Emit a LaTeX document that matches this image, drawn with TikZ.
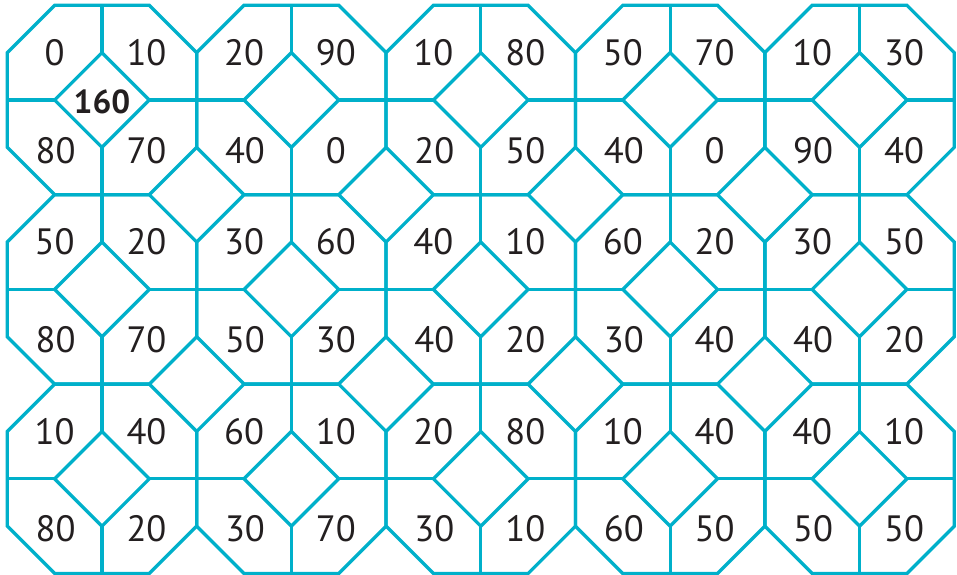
\documentclass[tikz,border=0pt]{standalone}
\usepackage{fontspec}
\setmainfont{PT Sans}
\usepackage{tikz}
\definecolor{octline}{RGB}{0,176,202}
\definecolor{numtext}{RGB}{35,31,32}

\begin{document}
\begin{tikzpicture}[line width=1pt, line join=miter,
  font=\fontsize{11}{13}\selectfont,
  cell/.style={draw=octline},
  num/.style={inner sep=0pt, text=numtext}]
\useasboundingbox (-1.077,-5.016) rectangle (9.029,1.056);

% --- octagons: column/row/top-left/top-right/bottom-left/bottom-right ---
\foreach \c/\r/\tl/\tr/\bl/\br in {
  0/0/0/10/80/70,   1/0/20/90/40/0,   2/0/10/80/20/50,  3/0/50/70/40/0,   4/0/10/30/90/40,
  0/1/50/20/80/70,  1/1/30/60/50/30,  2/1/40/10/40/20,  3/1/60/20/30/40,  4/1/30/50/40/20,
  0/2/10/40/80/20,  1/2/60/10/30/70,  2/2/20/80/30/10,  3/2/10/40/60/50,  4/2/40/10/50/50} {
  \begin{scope}[shift={(2*\c,-2*\r)}]
    % outline
    \draw[cell] (-1,-0.5) -- (-1,0.5) -- (-0.5,1) -- (0.5,1) -- (1,0.5)
      -- (1,-0.5) -- (0.5,-1) -- (-0.5,-1) -- cycle;
    % inner diamond
    \draw[cell] (0.5,0) -- (0,0.5) -- (-0.5,0) -- (0,-0.5) -- cycle;
    % cross
    \draw[cell] (-1,0) -- (-0.5,0) (0.5,0) -- (1,0) (0,1) -- (0,0.5) (0,-0.5) -- (0,-1);
    \node[num] (tl-\c-\r) at (-0.5,0.5) {\tl};
    \node[num] (tr-\c-\r) at (0.47,0.5) {\tr};
    \node[num] (bl-\c-\r) at (-0.49,-0.53) {\bl};
    \node[num] (br-\c-\r) at (0.47,-0.53) {\br};
  \end{scope}
}

% --- sum in the first diamond ---
\node[num, font=\fontsize{10}{12}\selectfont\bfseries] (total) at (0,-0.02) {160};
\end{tikzpicture}
\end{document}
